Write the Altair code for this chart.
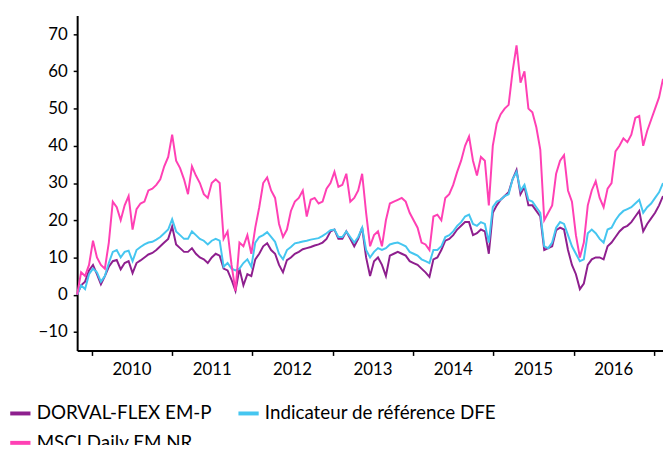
import altair as alt
import pandas as pd

series_names = ["DORVAL-FLEX EM-P", "Indicateur de référence DFE", "MSCI Daily EM NR"]
series_colors = ["#8E1F8E", "#45C6F0", "#FF40B4"]

start_date = "2009-10-26"
step_days = 18

dorval = [
    0, 2.5, 3.5, 6.5, 8, 5.5, 2.8, 5, 7.5, 9,
    9.3, 6.8, 8.5, 9, 5.8, 8.5, 9.2, 10, 10.8, 11.2,
    12, 13, 14, 15, 18.3, 13.5, 12.5, 11.5, 11.5, 12.5,
    11, 10, 9.5, 8.5, 10, 11, 10.5, 7, 6.5, 4,
    1, 7, 2.5, 5.5, 5, 9.5, 11, 13, 13.8, 12,
    11, 8, 6, 9.3, 10, 11, 11.5, 12.2, 12.5, 12.8,
    13.2, 13.5, 14, 15, 17, 17.5, 15, 15, 17, 15,
    13, 15, 18, 10, 5, 9, 10, 8, 5, 10.5,
    11, 11.5, 11, 10.5, 9, 8.5, 8, 7, 6, 4.8,
    9.5, 10, 12, 14.5, 15, 16, 17.5, 18.5, 19.5, 19.5,
    16, 16.5, 17.5, 17, 11, 22, 24, 25.5, 26.5, 27.5,
    31, 33.5, 27, 29, 24, 24, 22.5, 21, 12, 12.5,
    13, 17.3, 18, 17.5, 12, 8, 5.5, 1.5, 3, 8,
    9.5, 10, 10, 9.5, 13, 14, 15.5, 17, 18, 18.5,
    19.5, 21, 22.5, 17, 19, 20.5, 22, 24, 26.5,
]

indicateur = [
    0, 2.5, 1.5, 5.5, 7, 6, 3.5, 5, 8.5, 11.5,
    12, 10, 11.5, 11.8, 9, 12, 12.8, 13.5, 14, 14.2,
    14.8, 15.5, 16.5, 17.5, 20.3, 17, 16, 15, 15, 17,
    16, 15, 14.5, 13.5, 14.5, 15, 14.5, 7.5, 8.5, 7,
    6.5, 7, 8.5, 9.5, 7.5, 14, 15.5, 16, 16.8, 15.5,
    14.2, 11, 9.5, 12, 12.8, 13.8, 14, 14.3, 14.5, 14.8,
    15, 15.2, 15.8, 16.5, 17.3, 17.5, 15.5, 15.5, 17, 15.5,
    14, 15.5, 18, 12, 10, 11.5, 12.5, 12, 12.5, 13.5,
    13.8, 14, 13.5, 13, 11.5, 11, 10.5, 9.5, 9, 8.5,
    12, 12, 13, 15.5, 16, 17, 18.5, 19.5, 21, 21.5,
    19, 18.5, 19.5, 19, 14, 23.5, 25, 25.5, 26.5, 27,
    31, 33, 28, 29.5, 25.5, 25, 23.5, 22, 13, 12.5,
    14, 18, 19.5, 19, 16, 13, 11, 9, 9.5, 16.5,
    17.5, 16.5, 15, 14, 17.5, 18, 20, 21.5, 22.5, 23,
    23.5, 24.5, 25.5, 22, 23.5, 24.5, 26, 27.5, 30,
]

msci = [
    0, 6, 5, 8, 14.5, 10, 8, 7, 14, 25,
    23.5, 20, 24, 26.5, 17.5, 23, 24.5, 25, 28, 28.5,
    29.5, 31, 34.5, 37, 43, 36, 34, 31, 27, 34.5,
    32, 30, 27, 26, 30, 31, 30, 15, 17, 8,
    1, 14, 13, 16, 11, 18, 23.5, 30, 31.5, 28,
    26, 19, 15.5, 17.5, 22.5, 25, 26, 28, 21, 25.5,
    26, 24.5, 25, 28.5, 30, 33, 29, 29.5, 32.5, 25,
    26, 28, 32.5, 22, 13, 16, 17, 13, 20, 24.5,
    25, 25.5, 26, 25, 22, 20, 18, 14, 13.5, 12,
    21, 21.5, 20, 26, 27, 29.5, 33, 36, 40, 42.5,
    36, 32, 37, 36, 24, 40, 46, 48.5, 50, 51,
    60, 67, 57, 60, 50, 49, 45, 39, 20, 22,
    24, 32.5, 36, 37.5, 28, 25, 16, 10, 14, 24,
    28, 30.5, 26, 23.5, 28.5, 30, 38.5, 40, 42, 41,
    43, 47.5, 48, 40, 44, 47, 50, 53, 58,
]

year_ticks = [2010, 2011, 2012, 2013, 2014, 2015, 2016, 2017]
y_ticks = [-10, 0, 10, 20, 30, 40, 50, 60, 70]

dates = pd.date_range(start_date, periods=len(msci), freq=f"{step_days}D")
frames = []
for i, (name, vals) in enumerate(zip(series_names, [dorval, indicateur, msci])):
    frames.append(pd.DataFrame({"date": dates[:len(vals)], "value": vals, "series": name, "ord": i}))
df = pd.concat(frames, ignore_index=True)
df["date"] = df["date"].dt.strftime("%Y-%m-%dT%H:%M:%S")

FONT = "Lato"

chart = alt.Chart(df).mark_line(strokeWidth=2).encode(
    x=alt.X(
        "date:T",
        title=None,
        scale=alt.Scale(nice=False, padding=0),
        axis=alt.Axis(
            values=[alt.DateTime(year=y, month=1, date=1) for y in year_ticks],
            labelExpr="year(datum.value) < 2017 ? timeFormat(datum.value, '%Y') : ''",
            labelOffset=40,
            labelFlush=False,
            labelOverlap=False,
            labelPadding=6,
            tickSize=5,
            grid=False,
        ),
    ),
    y=alt.Y(
        "value:Q",
        title=None,
        scale=alt.Scale(domain=[-15, 75], nice=False, zero=False),
        axis=alt.Axis(values=y_ticks, tickSize=4, labelPadding=6, grid=False),
    ),
    color=alt.Color(
        "series:N",
        sort=series_names,
        scale=alt.Scale(domain=series_names, range=series_colors),
        legend=alt.Legend(
            title=None,
            orient="none",
            legendX=-70,
            legendY=390,
            columns=2,
            direction="horizontal",
            symbolType="stroke",
            symbolStrokeWidth=4,
            symbolSize=420,
            labelFont=FONT,
            labelFontSize=19,
            labelColor="#000000",
            labelOffset=4,
            columnPadding=18,
            rowPadding=7,
            padding=0,
            labelLimit=400,
        ),
    ),
    order=alt.Order("ord:Q"),
    detail="series:N",
).properties(
    width=593,
    height=339,
    autosize=alt.AutoSizeParams(type="none"),
    padding={"left": 70, "top": 5, "right": 0, "bottom": 93},
    background="white",
).configure_view(stroke=None).configure_axis(
    domainColor="#000000",
    domainWidth=2,
    tickColor="#000000",
    tickWidth=1.5,
    labelFont=FONT,
    labelFontSize=17,
    labelColor="#000000",
)

chart.save("out.html", embed_options={"renderer": "svg", "actions": False})
